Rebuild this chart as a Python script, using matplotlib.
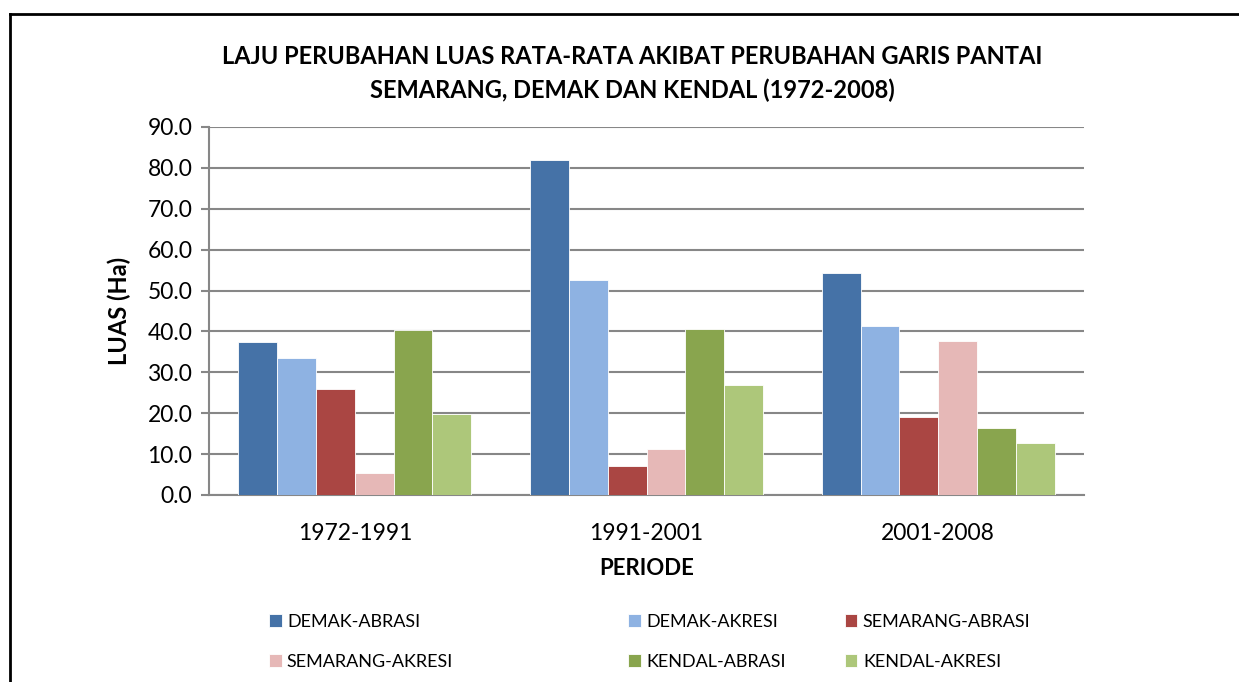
import matplotlib.pyplot as plt
import numpy as np
from matplotlib.lines import Line2D

plt.rcParams['font.family'] = ['Lato', 'DejaVu Sans']

periods = ['1972-1991', '1991-2001', '2001-2008']
series = ['DEMAK-ABRASI', 'DEMAK-AKRESI', 'SEMARANG-ABRASI',
          'SEMARANG-AKRESI', 'KENDAL-ABRASI', 'KENDAL-AKRESI']
demak_abrasi = [37.5, 81.9, 54.3]
demak_akresi = [33.5, 52.6, 41.4]
semarang_abrasi = [26.0, 7.0, 19.0]
semarang_akresi = [5.3, 11.2, 37.7]
kendal_abrasi = [40.3, 40.7, 16.4]
kendal_akresi = [19.9, 26.8, 12.6]
values = [demak_abrasi, demak_akresi, semarang_abrasi,
          semarang_akresi, kendal_abrasi, kendal_akresi]
colors = ['#4572A7', '#8EB2E2', '#AA4643', '#E6B8B7', '#89A54E', '#ADC77A']

fig = plt.figure(figsize=(12.39, 6.82), dpi=100)
ax = fig.add_axes([0.1687, 0.2742, 0.7062, 0.5396])

x = np.arange(len(periods))
w = 0.133
bars = []
for i, (vals, c) in enumerate(zip(values, colors)):
    b = ax.bar(x + (i - 2.5) * w, vals, w, color=c, edgecolor='white',
               linewidth=0.6, label=series[i], zorder=3)
    bars.append(b)

ax.set_xlim(-0.5, 2.5)
ax.set_ylim(0, 90)
ax.set_yticks(np.arange(0, 91, 10))
ax.set_yticklabels([f'{v:.1f}' for v in np.arange(0, 91, 10)], fontsize=16.5)
ax.set_xticks(x)
ax.set_xticklabels(periods, fontsize=16.5)
ax.tick_params(axis='x', length=0, pad=20)
ax.tick_params(axis='y', length=6, color='#878787', width=1.5, pad=6)
ax.yaxis.grid(True, color='#878787', linewidth=1.5, zorder=0)
for s in ['top', 'right']:
    ax.spines[s].set_visible(False)
for s in ['left', 'bottom']:
    ax.spines[s].set_color('#878787')
    ax.spines[s].set_linewidth(1.5)
ax.set_axisbelow(True)

ax.set_ylabel('LUAS (Ha)', fontsize=17, fontweight='bold', labelpad=12)
ax.set_xlabel('PERIODE', fontsize=16, fontweight='bold', labelpad=10)

fig.text(0.51, 1 - 57 / 682, 'LAJU PERUBAHAN LUAS RATA-RATA AKIBAT PERUBAHAN GARIS PANTAI',
         ha='center', va='center', fontsize=17, fontweight='bold')
fig.text(0.51, 1 - 90 / 682, 'SEMARANG, DEMAK DAN KENDAL (1972-2008)',
         ha='center', va='center', fontsize=17, fontweight='bold')

# legend: three columns, each holding two entries
handles = [b[0] for b in bars]
col_x = [262 / 1239, 621 / 1239, 838 / 1239]
for j in range(3):
    fig.legend([handles[j], handles[j + 3]], [series[j], series[j + 3]],
               loc='upper left', bbox_to_anchor=(col_x[j], 1 - 607 / 682),
               frameon=False, fontsize=13, ncol=1, handlelength=0.68,
               handleheight=0.72, handletextpad=0.3, labelspacing=1.3,
               borderaxespad=0)

# outer frame (only left and top visible)
fig.add_artist(Line2D([10 / 1239, 10 / 1239], [0, 1 - 14 / 682],
                      transform=fig.transFigure, color='black', linewidth=2))
fig.add_artist(Line2D([10 / 1239, 1], [1 - 14 / 682, 1 - 14 / 682],
                      transform=fig.transFigure, color='black', linewidth=2))

fig.savefig('out.png', dpi=100)
